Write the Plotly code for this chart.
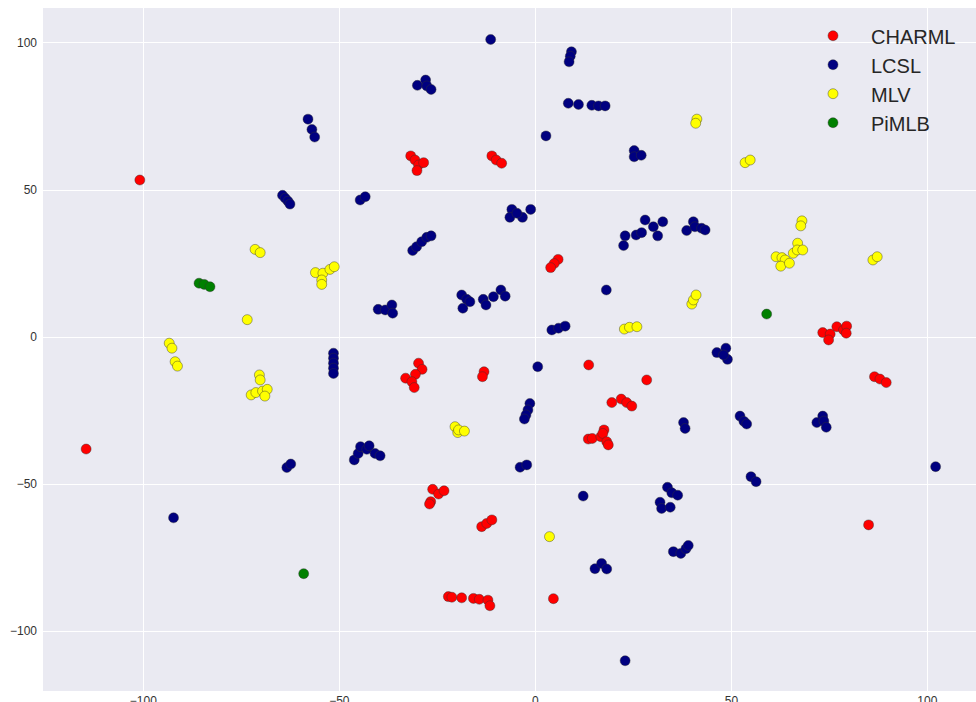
import plotly.graph_objects as go

# Embedding coordinates per method
charml_x = [-100.9, -31.8, -30.7, -29.8, -28.5, -30.2, -11.1, -10.0, -8.6, 5.8, 4.8, 3.9,
            73.3, 75.2, 74.8, 76.9, 78.6, 79.4, 79.3,
            -29.8, -28.9, -30.6, -33.1, -31.5, -30.9, -13.1, -13.5, 13.6, 28.4,
            19.5, 21.9, 23.3, 24.6,
            13.5, 14.5, 16.7, 17.5, 17.2, 18.2, 18.6,
            -114.6, -26.2, -24.7, -23.3, -26.7, -27.0, -13.7, -12.4, -11.1,
            86.5, 87.9, 89.5, 85.0,
            -22.2, -21.3, -18.8, -15.8, -14.3, -12.1, -11.6, 4.6]
charml_y = [53.4, 61.6, 60.2, 58.5, 59.3, 56.6, 61.6, 60.2, 59.1, 26.4, 25.0, 23.6,
            1.5, 1.0, -1.0, 3.5, 2.4, 3.7, 1.3,
            -8.9, -11.0, -12.7, -14.0, -15.2, -17.2, -11.8, -13.5, -9.5, -14.6,
            -22.3, -21.1, -22.3, -23.5,
            -34.7, -34.5, -33.9, -31.6, -32.8, -35.6, -36.7,
            -38.1, -51.8, -53.4, -52.3, -56.0, -56.8, -64.5, -63.4, -62.2,
            -13.5, -14.3, -15.5, -63.9,
            -88.3, -88.5, -88.7, -88.9, -89.2, -89.5, -91.4, -89.0]

lcsl_x = [-58.0, -57.0, -56.3, -64.5, -63.8, -63.1, -62.6, -44.7, -43.4, -11.4,
          -30.1, -28.0, -27.7, -26.6, 9.2, 8.9, 8.6,
          8.4, 11.0, 14.4, 16.1, 17.8, 2.7, 25.2, 25.2, 27.0,
          -6.0, -6.5, -3.3, -1.2, -4.7,
          -31.3, -30.3, -29.0, -27.7, -26.6,
          -40.1, -38.3, -36.6, -36.4,
          -18.8, -17.5, -18.5, -16.7,
          -13.3, -12.6, -10.7, -8.8, -7.7, 18.1,
          22.5, 22.9, 25.7, 27.1, 28.0, 30.1, 31.2, 32.5,
          38.6, 40.3, 40.7, 42.4, 43.3,
          4.2, 5.9, 7.6,
          -51.5, -51.5, -51.5, -51.5, -51.5, 0.6,
          -1.4, -1.9, -2.4, -2.8,
          46.3, 48.6, 49.0, 48.0, 37.8, 38.2,
          52.2, 53.2, 53.9, 73.3, 71.8, 73.6, 74.2,
          -46.2, -45.2, -44.6, -43.0, -42.4, -40.9, -39.6,
          -63.4, -62.4, -3.9, -2.2, 102.1, 55.0, 56.3, 12.2,
          33.7, 34.8, 36.3, 31.8, 32.2, 34.4, -92.3,
          35.2, 37.1, 38.4, 39.0, 15.2, 16.9, 18.2, 22.9]
lcsl_y = [74.1, 70.6, 68.0, 48.2, 47.2, 46.2, 45.2, 46.6, 47.7, 101.2,
          85.6, 87.4, 85.4, 84.2, 97.0, 95.5, 93.6,
          79.5, 79.1, 78.8, 78.6, 78.6, 68.4, 63.4, 61.3, 61.8,
          43.4, 40.7, 40.7, 43.4, 42.1,
          29.4, 30.7, 32.4, 33.9, 34.4,
          9.4, 9.2, 10.9, 8.1,
          14.3, 12.8, 9.8, 12.0,
          12.8, 10.9, 13.7, 16.0, 13.9, 16.0,
          31.1, 34.4, 34.7, 35.5, 39.8, 37.5, 34.4, 39.2,
          36.2, 39.2, 37.5, 37.0, 36.4,
          2.4, 3.0, 3.7,
          -5.5, -7.2, -8.9, -10.6, -12.4, -10.1,
          -22.6, -24.8, -26.5, -27.9,
          -5.3, -3.8, -7.6, -6.1, -29.1, -31.1,
          -26.9, -28.7, -29.6, -26.9, -29.1, -28.6, -30.7,
          -41.8, -39.6, -37.3, -38.2, -37.0, -39.6, -40.4,
          -44.4, -43.2, -44.3, -43.5, -44.1, -47.5, -49.2, -54.1,
          -51.1, -53.0, -53.8, -56.2, -58.3, -57.9, -61.5,
          -73.0, -73.6, -72.0, -70.9, -78.8, -77.0, -78.9, -110.1]

mlv_x = [-71.5, -70.2, -56.1, -54.2, -52.4, -51.3, -54.5, -54.5, -73.5,
         -93.4, -92.7, -91.9, -91.3,
         -70.4, -70.2, -72.5, -71.3, -69.6, -68.4, -69.0,
         41.2, 40.9, 53.5, 54.8,
         68.0, 67.7, 66.9, 65.8, 66.8, 68.2, 61.4, 62.9, 63.7, 62.6, 64.8,
         86.1, 87.2, 39.9, 40.3, 41.0, 22.7, 24.0, 25.9,
         -20.5, -19.8, -19.6, -18.1, 3.6]
mlv_y = [29.8, 28.7, 21.9, 21.7, 23.0, 23.9, 19.4, 17.9, 5.9,
         -2.1, -3.8, -8.4, -9.9,
         -12.9, -14.6, -19.7, -18.9, -18.4, -17.8, -20.1,
         74.1, 72.7, 59.3, 60.2,
         39.5, 37.8, 31.9, 28.5, 29.6, 29.6, 27.3, 27.0, 26.2, 24.1, 25.1,
         26.2, 27.3, 11.2, 12.6, 14.3, 2.7, 3.3, 3.5,
         -30.5, -32.5, -31.6, -32.0, -67.9]

pimlb_x = [-85.8, -84.5, -83.0, 59.0, -59.1]
pimlb_y = [18.3, 17.9, 17.1, 7.8, -80.5]

series = [
    ("CHARML", charml_x, charml_y, "#ff0000"),
    ("LCSL", lcsl_x, lcsl_y, "#000080"),
    ("MLV", mlv_x, mlv_y, "#ffff00"),
    ("PiMLB", pimlb_x, pimlb_y, "#008000"),
]

fig = go.Figure()
for name, xs, ys, color in series:
    fig.add_trace(go.Scatter(
        x=xs, y=ys, mode="markers", name=name, legendgroup=name,
        marker=dict(size=10, color=color,
                    line=dict(width=0.5, color="rgba(50,50,50,0.85)")),
    ))

tick_vals = [-100, -50, 0, 50, 100]

axis_common = dict(
    showgrid=True, gridcolor="white", gridwidth=1,
    zeroline=False, showline=False, ticks="", automargin=False,
    tickvals=tick_vals,
    tickfont=dict(family="Liberation Sans, Arial", size=12, color="#333333"),
)

fig.update_layout(
    width=976, height=702,
    margin=dict(l=43, r=0, t=8, b=11),
    paper_bgcolor="white",
    plot_bgcolor="#eaeaf2",
    xaxis=dict(range=[-125.6, 112.4], ticklabelstandoff=1, **axis_common),
    yaxis=dict(range=[-120.4, 111.9], ticklabelstandoff=5, **axis_common),
    showlegend=True,
    legend=dict(
        x=0.806, y=0.988, xanchor="left", yanchor="top",
        bgcolor="rgba(0,0,0,0)", borderwidth=0,
        font=dict(family="Liberation Sans, Arial", size=20, color="#262626"),
        itemwidth=66, tracegroupgap=0, traceorder="grouped",
    ),
)

fig.write_html("out.html")
